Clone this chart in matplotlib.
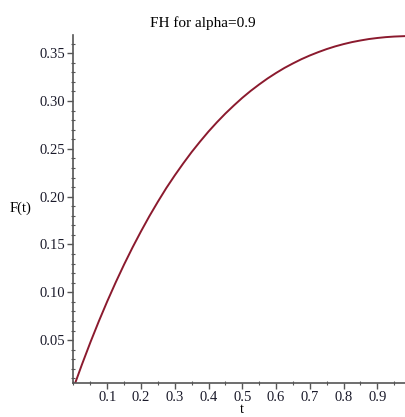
import matplotlib
matplotlib.use("Agg")
import matplotlib.pyplot as plt
from matplotlib.ticker import MultipleLocator, FormatStrFormatter

# F(t) for alpha = 0.9
t = [0.005, 0.025, 0.05, 0.075, 0.1, 0.125, 0.15, 0.175, 0.2, 0.225, 0.25,
     0.275, 0.3, 0.325, 0.35, 0.375, 0.4, 0.425, 0.45, 0.475, 0.5,
     0.525, 0.55, 0.575, 0.6, 0.625, 0.65, 0.675, 0.7, 0.725, 0.75,
     0.775, 0.8, 0.825, 0.85, 0.875, 0.9, 0.925, 0.95, 0.985]
F = [0.0050, 0.0244, 0.0476, 0.0696, 0.0905, 0.1103, 0.1291, 0.1469, 0.1637, 0.1797, 0.1947,
     0.2090, 0.2222, 0.2347, 0.2466, 0.2576, 0.2681, 0.2778, 0.2869, 0.2953, 0.3033,
     0.3106, 0.3173, 0.3236, 0.3293, 0.3346, 0.3393, 0.3437, 0.3476, 0.3511, 0.3543,
     0.3571, 0.3595, 0.3616, 0.3633, 0.3648, 0.3659, 0.3668, 0.3674, 0.3679]

xticks = [0.1, 0.2, 0.3, 0.4, 0.5, 0.6, 0.7, 0.8, 0.9]
yticks = [0.05, 0.10, 0.15, 0.20, 0.25, 0.30, 0.35]

plt.rcParams['font.family'] = ['Liberation Serif', 'DejaVu Serif']

fig = plt.figure(figsize=(4.06, 4.17), dpi=100)
ax = fig.add_axes([0.181, 0.082, 0.819, 0.834])
ax.plot(t, F, color='#8b1a2e', linewidth=1.4, solid_capstyle='round')

ax.set_xlim(0, 0.985)
ax.set_ylim(0.0053, 0.369)

axc = '#555555'
for s in ['top', 'right']:
    ax.spines[s].set_visible(False)
for s in ['left', 'bottom']:
    ax.spines[s].set_color(axc)
    ax.spines[s].set_linewidth(1.2)

ax.set_xticks(xticks)
ax.set_yticks(yticks)
ax.yaxis.set_major_formatter(FormatStrFormatter('%.2f'))
ax.xaxis.set_minor_locator(MultipleLocator(0.05))
ax.yaxis.set_minor_locator(MultipleLocator(0.01))
ax.tick_params(which='major', direction='out', length=4, width=1, color=axc,
               labelsize=10.5, pad=2, labelcolor='#1a1a2a')
ax.tick_params(which='minor', direction='inout', length=3, width=0.8, color=axc)

fig.text(0.5, 0.945, 'FH for alpha=0.9', ha='center', va='center', fontsize=11)
fig.text(0.05, 0.50, 'F(t)', ha='center', va='center', fontsize=10.5)
fig.text(0.595, 0.003, 't', ha='center', va='bottom', fontsize=10.5)

fig.savefig('out.png', dpi=100)
